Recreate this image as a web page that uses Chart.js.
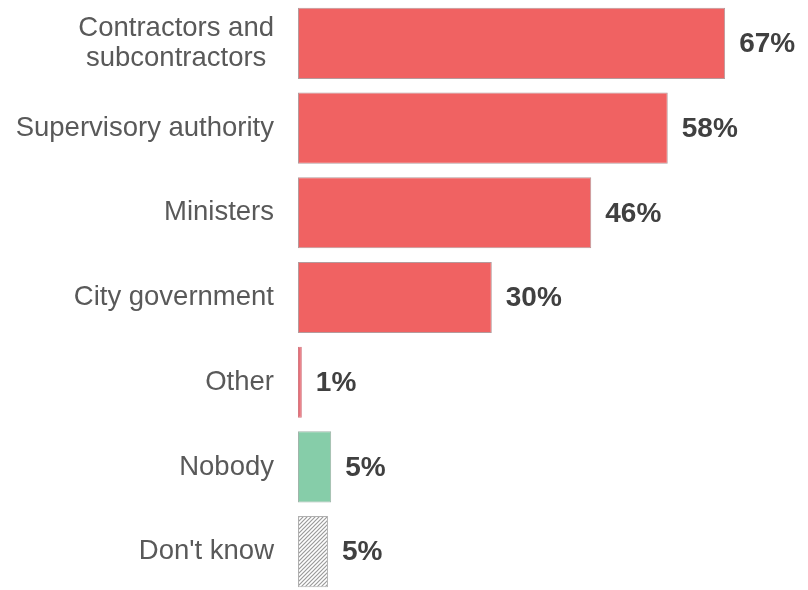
<!DOCTYPE html>
<html lang="en">
<head>
  <meta charset="UTF-8">
  <title>Who is responsible</title>
  <script src="https://cdn.jsdelivr.net/npm/chart.js@4.4.1/dist/chart.umd.min.js"></script>
  <style>
    html, body {
      margin: 0;
      padding: 0;
      background: #ffffff;
      overflow: hidden;
    }
    #chart-container {
      width: 808px;
      height: 594px;
      position: relative;
    }
  </style>
</head>
<body>

  <div id="chart-container">
    <canvas id="respChart"></canvas>
  </div>

  <script>
    // categories, values and the printed labels
    const categories = [
      ['Contractors and', 'subcontractors'],
      ['Supervisory authority'],
      ['Ministers'],
      ['City government'],
      ['Other'],
      ['Nobody'],
      ["Don't know"]
    ];
    const values = [67, 58, 46, 30.4, 0.6, 5.2, 4.7];
    const valueLabels = ['67%', '58%', '46%', '30%', '1%', '5%', '5%'];

    // hatched fill for "Don't know"
    function makeHatch() {
      const c = document.createElement('canvas');
      c.width = 4;
      c.height = 4;
      const g = c.getContext('2d');
      g.fillStyle = '#ffffff';
      g.fillRect(0, 0, 4, 4);
      g.strokeStyle = '#9a9a9a';
      g.lineWidth = 1.2;
      g.beginPath();
      g.moveTo(0, 4); g.lineTo(4, 0);
      g.moveTo(-1, 1); g.lineTo(1, -1);
      g.moveTo(3, 5); g.lineTo(5, 3);
      g.stroke();
      return g.createPattern(c, 'repeat');
    }

    const ctx = document.getElementById('respChart').getContext('2d');
    const hatch = makeHatch();

    const fills = ['#f06262', '#f06262', '#f06262', '#f06262', '#e8707a', '#86cda9', hatch];
    const borders = ['#b59a9c', '#b59a9c', '#b59a9c', '#b59a9c', '#d47a82', '#a0b5aa', '#b0b0b0'];

    const labelFont = '27.5px "Liberation Sans", Arial, sans-serif';
    const valueFont = 'bold 28px "Liberation Sans", Arial, sans-serif';

    // category labels on the left, right aligned, multi-line centred on widest line
    const categoryLabels = {
      id: 'categoryLabels',
      afterDraw(chart) {
        const yScale = chart.scales.y;
        const right = chart.chartArea.left - 24;
        const c = chart.ctx;
        c.save();
        c.font = labelFont;
        c.fillStyle = '#595959';
        c.textBaseline = 'middle';
        categories.forEach((lines, i) => {
          const yc = yScale.getPixelForTick(i);
          const lh = 30;
          const maxW = Math.max(...lines.map(l => c.measureText(l).width));
          lines.forEach((line, j) => {
            const y = yc + (j - (lines.length - 1) / 2) * lh;
            if (lines.length > 1) {
              c.textAlign = 'center';
              c.fillText(line, right - maxW / 2, y);
            } else {
              c.textAlign = 'right';
              c.fillText(line, right, y);
            }
          });
        });
        c.restore();
      }
    };

    // percentage labels at bar ends
    const valueTags = {
      id: 'valueTags',
      afterDatasetsDraw(chart) {
        const meta = chart.getDatasetMeta(0);
        const c = chart.ctx;
        c.save();
        c.font = valueFont;
        c.fillStyle = '#404040';
        c.textAlign = 'left';
        c.textBaseline = 'middle';
        meta.data.forEach((bar, i) => {
          c.fillText(valueLabels[i], bar.x + 14, bar.y + 1);
        });
        c.restore();
      }
    };

    new Chart(ctx, {
      type: 'bar',
      data: {
        labels: categories,
        datasets: [{
          data: values,
          backgroundColor: fills,
          borderColor: borders,
          borderWidth: 1,
          borderSkipped: false,
          barPercentage: 0.84,
          categoryPercentage: 1
        }]
      },
      options: {
        indexAxis: 'y',
        responsive: true,
        maintainAspectRatio: false,
        animation: false,
        layout: { padding: { top: 1, right: 0, bottom: 0, left: 0 } },
        plugins: {
          legend: { display: false },
          tooltip: { enabled: false }
        },
        scales: {
          x: {
            min: 0,
            max: 80,
            display: false
          },
          y: {
            grid: { display: false },
            border: { display: false },
            ticks: { display: false },
            afterFit(scale) { scale.width = 298; }
          }
        }
      },
      plugins: [categoryLabels, valueTags]
    });
  </script>

</body>
</html>
